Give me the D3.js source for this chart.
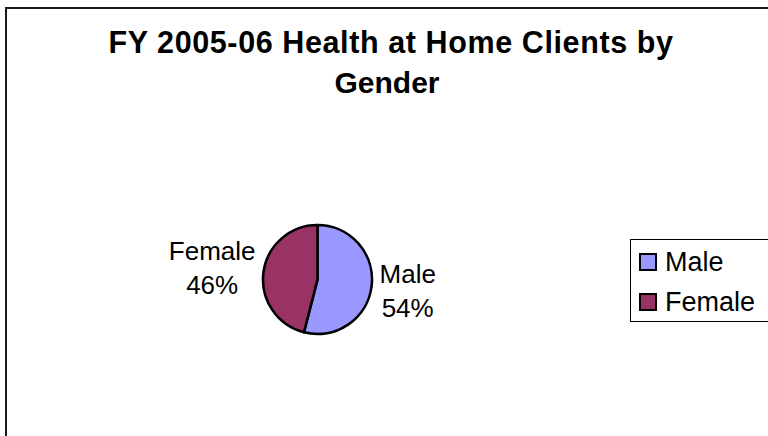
<!DOCTYPE html>
<html>
<head>
  <meta charset="utf-8">
  <title>FY 2005-06 Health at Home Clients by Gender</title>
  <script src="https://d3js.org/d3.v7.min.js"></script>
  <style>
    body { margin: 0; background: #fff; }
    text { font-family: "Liberation Sans", Arial, sans-serif; fill: #000; }
  </style>
</head>
<body>
  <div id="chart"></div>

  <script>
    // data
    var categories = ["Male", "Female"];
    var shares = [54, 46];
    var sliceColors = ["#9999ff", "#993366"];
    var titleLines = ["FY 2005-06 Health at Home Clients by", "Gender"];

    var W = 768, H = 436;
    var cx = 317.5, cy = 279.5, radius = 54.5;

    var svg = d3.select("#chart")
      .append("svg")
        .attr("width", W)
        .attr("height", H);

    // chart area border (runs off the right and bottom)
    svg.append("rect")
      .attr("x", 6)
      .attr("y", 8)
      .attr("width", W + 10)
      .attr("height", H + 10)
      .attr("fill", "#fff")
      .attr("stroke", "#1a1a1a")
      .attr("stroke-width", 2);

    // title
    svg.append("text")
      .attr("x", 391)
      .attr("y", 53)
      .attr("text-anchor", "middle")
      .style("font-size", "30.5px")
      .style("font-weight", "bold")
      .style("letter-spacing", "0.6px")
      .text(titleLines[0]);
    svg.append("text")
      .attr("x", 387)
      .attr("y", 93)
      .attr("text-anchor", "middle")
      .style("font-size", "30px")
      .style("font-weight", "bold")
      .text(titleLines[1]);

    // pie
    var pie = d3.pie().sort(null).value(function(d) { return d; });
    var arcs = pie(shares);
    var arc = d3.arc().innerRadius(0).outerRadius(radius);
    var labelArc = d3.arc().innerRadius(95).outerRadius(95);

    var g = svg.append("g")
      .attr("transform", "translate(" + cx + "," + cy + ")");

    g.selectAll("path")
      .data(arcs)
      .enter()
      .append("path")
        .attr("d", arc)
        .attr("fill", function(d, i) { return sliceColors[i]; })
        .attr("stroke", "#000")
        .attr("stroke-width", 2.6)
        .attr("stroke-linejoin", "round");

    // data labels: name on top, percent below, placed outside the slice
    var labels = g.selectAll("g.lbl")
      .data(arcs)
      .enter()
      .append("g")
        .attr("class", "lbl");

    labels.each(function(d, i) {
      var c = labelArc.centroid(d);
      var side = c[0] >= 0 ? 1 : -1;
      var t = d3.select(this).append("text")
        .attr("text-anchor", "middle")
        .style("font-size", "26px");
      t.append("tspan").attr("x", 0).attr("dy", 0).text(categories[i]);
      t.append("tspan").attr("x", 0).attr("dy", 34).text(shares[i] + "%");
      var w = t.node().getBBox().width;
      var x = side * 62 + side * w / 2;
      var y = c[1] - 8;
      t.attr("transform", "translate(" + x + "," + y + ")");
    });

    // legend
    var legend = svg.append("g");
    legend.append("rect")
      .attr("x", 630.5)
      .attr("y", 239.5)
      .attr("width", 160)
      .attr("height", 82)
      .attr("fill", "#fff")
      .attr("stroke", "#000")
      .attr("stroke-width", 1);

    var items = legend.selectAll("g.item")
      .data(categories)
      .enter()
      .append("g")
        .attr("class", "item")
        .attr("transform", function(d, i) { return "translate(640," + (254 + i * 40) + ")"; });

    items.append("rect")
      .attr("width", 16)
      .attr("height", 16)
      .attr("fill", function(d, i) { return sliceColors[i]; })
      .attr("stroke", "#000")
      .attr("stroke-width", 2);

    items.append("text")
      .attr("x", 25)
      .attr("y", 17)
      .style("font-size", "27px")
      .text(function(d) { return d; });
  </script>
</body>
</html>
